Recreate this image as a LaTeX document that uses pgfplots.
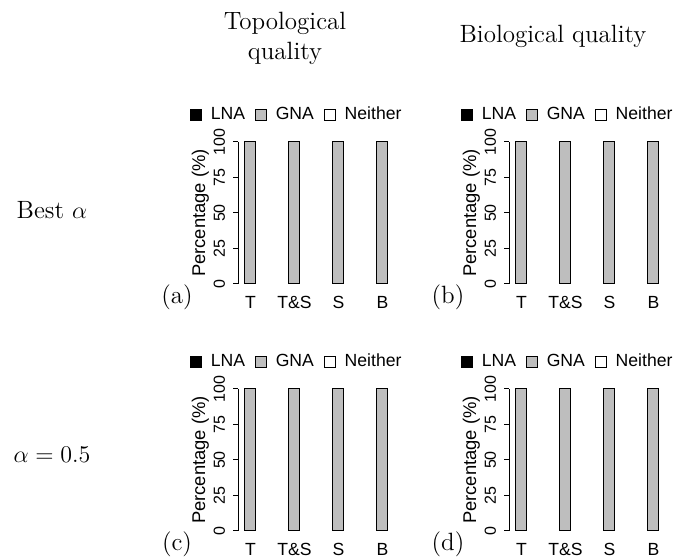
\documentclass[border=0pt]{standalone}
\usepackage{fontspec}
\usepackage{pgfplots}
\usepackage{pgfplotstable}
\pgfplotsset{compat=1.18}
\newfontfamily\rsans{Liberation Sans}
\definecolor{rgray}{RGB}{190,190,190}

\pgfplotstableread{
x LNA GNA Neither
1 0 100 0
2 0 100 0
3 0 100 0
4 0 100 0
}\dataA
\pgfplotstableread{
x LNA GNA Neither
1 0 100 0
2 0 100 0
3 0 100 0
4 0 100 0
}\dataB
\pgfplotstableread{
x LNA GNA Neither
1 0 100 0
2 0 100 0
3 0 100 0
4 0 100 0
}\dataC
\pgfplotstableread{
x LNA GNA Neither
1 0 100 0
2 0 100 0
3 0 100 0
4 0 100 0
}\dataD

\pgfplotsset{
 sqlegend/.style={legend image code/.code={\draw[##1,draw=black,line width=0.5pt] (0pt,-2.6pt) rectangle (5.2pt,2.6pt);}},
 panel/.style={
  x=22pt, y=0.71pt, xmin=0.716, xmax=4.3, ymin=0, ymax=100,
  anchor=south west,
  ybar stacked, bar width=5.5pt,
  axis y line*=left, axis x line*=bottom,
  x axis line style={draw=none},
  y axis line style={-, line width=0.5pt, black},
  xtick={1,2,3,4}, xticklabels={T,T\&S,S,B},
  x tick style={draw=none},
  ytick={0,25,50,75,100},
  tick align=outside, major tick length=2.5pt,
  y tick style={line width=0.5pt, black},
  /pgf/number format/assume math mode=true,
  yticklabel style={rotate=90, anchor=south, font=\rsans\fontsize{8}{9}\selectfont, inner sep=1pt, yshift=2.8pt},
  xticklabel style={font=\rsans\fontsize{8.8}{10}\selectfont},
  ylabel={Percentage (\%)},
  every axis y label/.style={at={(axis description cs:0,0.5)}, xshift=-18.8pt, rotate=90, anchor=center, font=\rsans\fontsize{9.2}{11}\selectfont},
  legend columns=3,
  legend style={at={(axis description cs:0.38,1.19)}, anchor=center, draw=none, fill=none, font=\rsans\fontsize{8.8}{10}\selectfont, inner sep=0pt,
    /tikz/every odd column/.append style={column sep=2.5pt},
    /tikz/every even column/.append style={column sep=3.2pt}},
  clip=false,
 },
 lnabar/.style={fill=black, draw=black, line width=0.5pt, sqlegend},
 gnabar/.style={fill=rgray, draw=black, line width=0.5pt, sqlegend},
 neibar/.style={fill=white, draw=black, line width=0.5pt, sqlegend},
}

\begin{document}
\begin{tikzpicture}
\path[use as bounding box] (0,0) rectangle (338pt,279pt);

\begin{axis}[panel, at={(119pt,137pt)}]
\addplot[lnabar] table[x=x,y=LNA]{\dataA};
\addplot[gnabar] table[x=x,y=GNA]{\dataA};
\addplot[neibar] table[x=x,y=Neither]{\dataA};
\legend{LNA,GNA,Neither}
\end{axis}

\begin{axis}[panel, at={(254.5pt,137pt)}]
\addplot[lnabar] table[x=x,y=LNA]{\dataB};
\addplot[gnabar] table[x=x,y=GNA]{\dataB};
\addplot[neibar] table[x=x,y=Neither]{\dataB};
\legend{LNA,GNA,Neither}
\end{axis}

\begin{axis}[panel, at={(119pt,13.5pt)}]
\addplot[lnabar] table[x=x,y=LNA]{\dataC};
\addplot[gnabar] table[x=x,y=GNA]{\dataC};
\addplot[neibar] table[x=x,y=Neither]{\dataC};
\legend{LNA,GNA,Neither}
\end{axis}

\begin{axis}[panel, at={(254.5pt,13.5pt)}]
\addplot[lnabar] table[x=x,y=LNA]{\dataD};
\addplot[gnabar] table[x=x,y=GNA]{\dataD};
\addplot[neibar] table[x=x,y=Neither]{\dataD};
\legend{LNA,GNA,Neither}
\end{axis}

\node[font=\fontsize{12.5}{15}\selectfont, align=center] at (142.5pt,260pt) {Topological\\quality};
\node[font=\fontsize{12.5}{15}\selectfont, anchor=base] at (276.5pt,257.5pt) {Biological quality};
\node[font=\fontsize{12.5}{15}\selectfont, anchor=base] at (26pt,169.5pt) {Best $\alpha$};
\node[font=\fontsize{12.5}{15}\selectfont, anchor=base] at (26pt,47.5pt) {$\alpha = 0.5$};
\node[font=\fontsize{12.5}{15}\selectfont] at (88.5pt,130.5pt) {(a)};
\node[font=\fontsize{12.5}{15}\selectfont] at (224pt,130.5pt) {(b)};
\node[font=\fontsize{12.5}{15}\selectfont] at (88.5pt,7pt) {(c)};
\node[font=\fontsize{12.5}{15}\selectfont] at (224pt,7pt) {(d)};
\end{tikzpicture}
\end{document}
